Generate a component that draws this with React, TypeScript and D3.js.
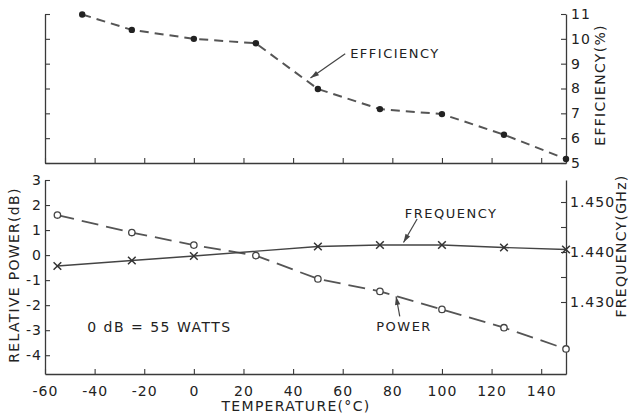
import React, { useEffect, useRef } from "react";
import * as d3 from "d3";

// temperatures (°C) and readings taken off the plot
const effTemps = [-45, -25, 0, 25, 50, 75, 100, 125, 150];
const efficiency = [10.98, 10.36, 10.0, 9.82, 7.98, 7.17, 6.97, 6.14, 5.16];

const powTemps = [-55, -25, 0, 25, 50, 75, 100, 125, 150];
const relPower = [1.6, 0.9, 0.4, -0.02, -0.95, -1.45, -2.17, -2.9, -3.75];

const freqTemps = [-55, -25, 0, 50, 75, 100, 125, 150];
const frequency = [1.4372, 1.4383, 1.4392, 1.4411, 1.4414, 1.4414, 1.4409, 1.4405];

const tempTicks = [-60, -40, -20, 0, 20, 40, 60, 80, 100, 120, 140];
const effTicks = [5, 6, 7, 8, 9, 10, 11];
const powTicks = [3, 2, 1, 0, -1, -2, -3, -4];
const freqTicks = [1.43, 1.435, 1.44, 1.445, 1.45];
const freqLabels = [1.43, 1.44, 1.45];

const W = 629;
const H = 415;
const INK = "#3a3a3a";
const FONT = "'DejaVu Sans', sans-serif";

// plain hyphen instead of d3's unicode minus, like the lettering on the original
const signed = (d: any) => (d < 0 ? `-${Math.abs(d)}` : `${d}`);

function Chart() {
  const svgRef = useRef<SVGSVGElement>(null);

  useEffect(() => {
    const svg = d3.select(svgRef.current);
    svg.selectAll("*").remove();

    // scales
    const x = d3.scaleLinear().domain([-60, 150]).range([45, 566]);
    const yEff = d3.scaleLinear().domain([5, 11]).range([163, 14]);
    const yPow = d3.scaleLinear().domain([-4.75, 3]).range([374, 180]);
    const yFreq = d3.scaleLinear().domain([1.4156, 1.4544]).range([374, 180]);

    const styleAxis = (g: any, labels = true, size = 13) => {
      g.selectAll("path.domain").attr("stroke", INK).attr("stroke-width", 1.3);
      g.selectAll(".tick line").attr("stroke", INK).attr("stroke-width", 1.1);
      g.selectAll(".tick text")
        .attr("fill", "#222")
        .style("font-family", FONT)
        .style("font-size", `${size}px`)
        .style("letter-spacing", "1px");
      if (!labels) g.selectAll(".tick text").remove();
    };

    // ---- top panel (efficiency) ----
    const topBottom = svg.append("g").attr("transform", `translate(0,${yEff(5)})`)
      .call(d3.axisBottom(x).tickValues(tempTicks).tickSizeInner(-5).tickSizeOuter(0));
    styleAxis(topBottom, false);

    const topLeft = svg.append("g").attr("transform", `translate(${x(-60)},0)`)
      .call(d3.axisLeft(yEff).tickValues(effTicks).tickSizeInner(-5).tickSizeOuter(0));
    styleAxis(topLeft, false);

    const topRight = svg.append("g").attr("transform", `translate(${x(150)},0)`)
      .call(d3.axisRight(yEff).tickValues(effTicks).tickSizeInner(-5).tickSizeOuter(0).tickPadding(5)
        .tickFormat(d3.format("d")));
    styleAxis(topRight, true, 14);

    const effLine = d3.line<number>().x((_, i) => x(effTemps[i])).y((d) => yEff(d));
    svg.append("path")
      .attr("d", effLine(efficiency))
      .attr("fill", "none")
      .attr("stroke", "#555")
      .attr("stroke-width", 2)
      .attr("stroke-dasharray", "9,6");
    svg.selectAll(".eff-dot")
      .data(efficiency)
      .join("circle")
      .attr("cx", (_, i) => x(effTemps[i]))
      .attr("cy", (d) => yEff(d))
      .attr("r", 3.2)
      .attr("fill", "#222");

    // ---- bottom panel (power + frequency) ----
    const botBottom = svg.append("g").attr("transform", `translate(0,${yPow(-4.75)})`)
      .call(d3.axisBottom(x).tickValues(tempTicks).tickSizeInner(-5).tickSizeOuter(0).tickPadding(12)
        .tickFormat(signed));
    styleAxis(botBottom, true, 14);

    const botLeft = svg.append("g").attr("transform", `translate(${x(-60)},0)`)
      .call(d3.axisLeft(yPow).tickValues(powTicks).tickSizeInner(-5).tickSizeOuter(0).tickPadding(3)
        .tickFormat(signed));
    styleAxis(botLeft, true, 14);

    const botRight = svg.append("g").attr("transform", `translate(${x(150)},0)`)
      .call(d3.axisRight(yFreq).tickValues(freqTicks).tickSizeInner(-5).tickSizeOuter(0).tickPadding(4)
        .tickFormat((d: any) => (freqLabels.some((v) => Math.abs(v - d) < 1e-6) ? d3.format(".3f")(d) : "")));
    styleAxis(botRight, true, 14);

    const powLine = d3.line<number>().x((_, i) => x(powTemps[i])).y((d) => yPow(d));
    svg.append("path")
      .attr("d", powLine(relPower))
      .attr("fill", "none")
      .attr("stroke", "#555")
      .attr("stroke-width", 1.8)
      .attr("stroke-dasharray", "17,8");
    svg.selectAll(".pow-dot")
      .data(relPower)
      .join("circle")
      .attr("cx", (_, i) => x(powTemps[i]))
      .attr("cy", (d) => yPow(d))
      .attr("r", 3.2)
      .attr("fill", "#fff")
      .attr("stroke", "#444")
      .attr("stroke-width", 1.3);

    const freqLine = d3.line<number>().x((_, i) => x(freqTemps[i])).y((d) => yFreq(d));
    svg.append("path")
      .attr("d", freqLine(frequency))
      .attr("fill", "none")
      .attr("stroke", "#444")
      .attr("stroke-width", 1.4);
    const xSym = d3.symbol().type(d3.symbolX).size(40);
    svg.selectAll(".freq-dot")
      .data(frequency)
      .join("path")
      .attr("d", xSym() as string)
      .attr("transform", (d, i) => `translate(${x(freqTemps[i])},${yFreq(d)})`)
      .attr("fill", "none")
      .attr("stroke", "#333")
      .attr("stroke-width", 1.5);

    // ---- annotations ----
    const note = (txt: string, tx: number, ty: number, size = 13) =>
      svg.append("text")
        .attr("x", tx)
        .attr("y", ty)
        .attr("dominant-baseline", "middle")
        .attr("fill", "#222")
        .style("font-family", FONT)
        .style("font-size", `${size}px`)
        .style("letter-spacing", "1.5px")
        .text(txt);

    const arrow = (x1: number, y1: number, x2: number, y2: number) => {
      svg.append("line")
        .attr("x1", x1).attr("y1", y1).attr("x2", x2).attr("y2", y2)
        .attr("stroke", "#444").attr("stroke-width", 1.2);
      const a = Math.atan2(y2 - y1, x2 - x1);
      const L = 9, s = 0.3;
      const p = [
        [x2, y2],
        [x2 - L * Math.cos(a - s), y2 - L * Math.sin(a - s)],
        [x2 - L * Math.cos(a + s), y2 - L * Math.sin(a + s)],
      ];
      svg.append("path").attr("d", d3.line()(p as any) + "Z").attr("fill", "#444");
    };

    note("EFFICIENCY", x(63), yEff(9.35));
    arrow(x(61), yEff(9.4), x(47), yEff(8.42));

    note("FREQUENCY", x(85), yFreq(1.4476));
    arrow(x(90), yFreq(1.4466), x(84.5), yFreq(1.4419));

    note("POWER", x(73.5), yPow(-2.9));
    arrow(x(83), yPow(-2.45), x(81.5), yPow(-1.65));

    note("0 dB  =  55 WATTS", x(-43), yPow(-2.9), 14);

    // ---- axis titles ----
    const title = (txt: string, tx: number, ty: number, rot: number) =>
      svg.append("text")
        .attr("transform", `translate(${tx},${ty}) rotate(${rot})`)
        .attr("text-anchor", "middle")
        .attr("dominant-baseline", "middle")
        .attr("fill", "#222")
        .style("font-family", FONT)
        .style("font-size", "14px")
        .style("letter-spacing", "1.3px")
        .text(txt);

    title("RELATIVE POWER(dB)", 15, 275, -90);
    title("EFFICIENCY(%)", 601, 85, -90);
    title("FREQUENCY(GHz)", 622, 246, -90);
    title("TEMPERATURE(°C)", 296, 407, 0);
  }, []);

  return <svg ref={svgRef} width={W} height={H} style={{ background: "#fff" }} />;
}

export default function App() {
  return (
    <div style={{ position: "fixed", left: 0, top: 0, width: W, height: H, background: "#fff" }}>
      <Chart />
    </div>
  );
}
